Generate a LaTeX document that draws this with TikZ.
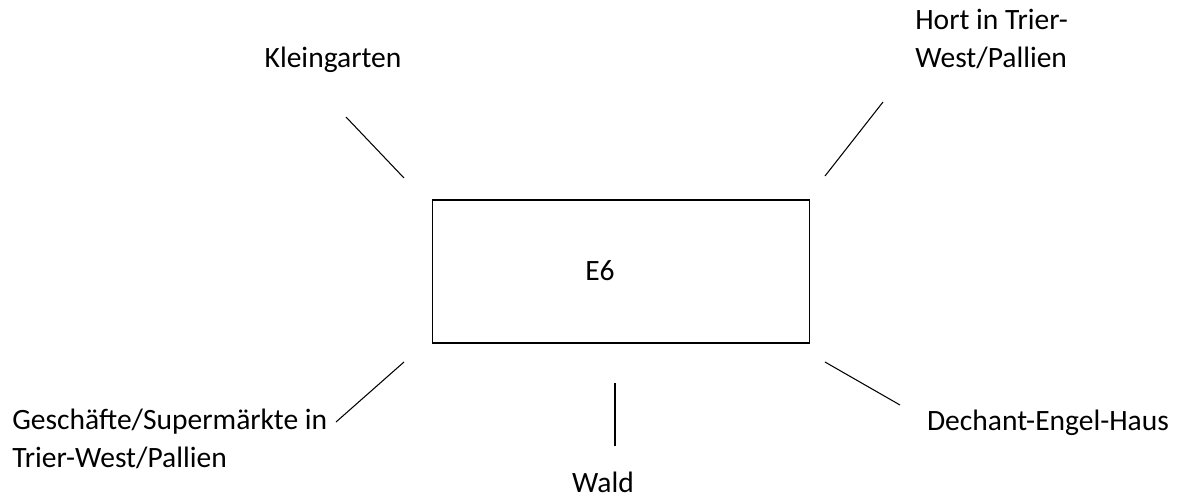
\documentclass[tikz,border=0pt]{standalone}
\usepackage{fontspec}
\setmainfont{Carlito}
\usetikzlibrary{positioning}
\tikzset{%
  lbl/.style={inner sep=0pt,font=\fontsize{16.8}{21.5}\selectfont,align=left},
  spoke/.style={draw,line width=0.6pt}
}

\begin{document}
\begin{tikzpicture}[x=0.02cm,y=-0.02cm]
    \useasboundingbox (0,0) rectangle (1178,498);
    % central box
    \node[draw,line width=0.6pt,minimum width=7.56cm,minimum height=2.86cm,
      inner sep=0pt] (e6) at (621,271.5) {};
    \node[lbl] (e6t) at (600,271) {E6};
    %
    \node[lbl,anchor=center] (klein) at (333,60) {Kleingarten};
    \coordinate (k1) at (346,117);
    \coordinate (k2) at (404,178);
    \draw[spoke] (k1)--(k2);
    %
    \node[lbl,anchor=north west] (hort) at (915,9) {Hort in Trier-\\West/Pallien};
    \coordinate (h1) at (883,102);
    \coordinate (h2) at (825,176);
    \draw[spoke] (h1)--(h2);
    %
    \node[lbl,anchor=north west] (gesch) at (12,409) {Geschäfte/Supermärkte in\\Trier-West/Pallien};
    \coordinate (g1) at (404,362);
    \coordinate (g2) at (336,422);
    \draw[spoke] (g1)--(g2);
    %
    \node[lbl] (wald) at (603,482) {Wald};
    \coordinate (w1) at (615,383);
    \coordinate (w2) at (615,446);
    \draw[spoke] (w1)--(w2);
    %
    \node[lbl] (dech) at (1048,423) {Dechant-Engel-Haus};
    \coordinate (d1) at (825,362);
    \coordinate (d2) at (900,405);
    \draw[spoke] (d1)--(d2);
\end{tikzpicture}
\end{document}
